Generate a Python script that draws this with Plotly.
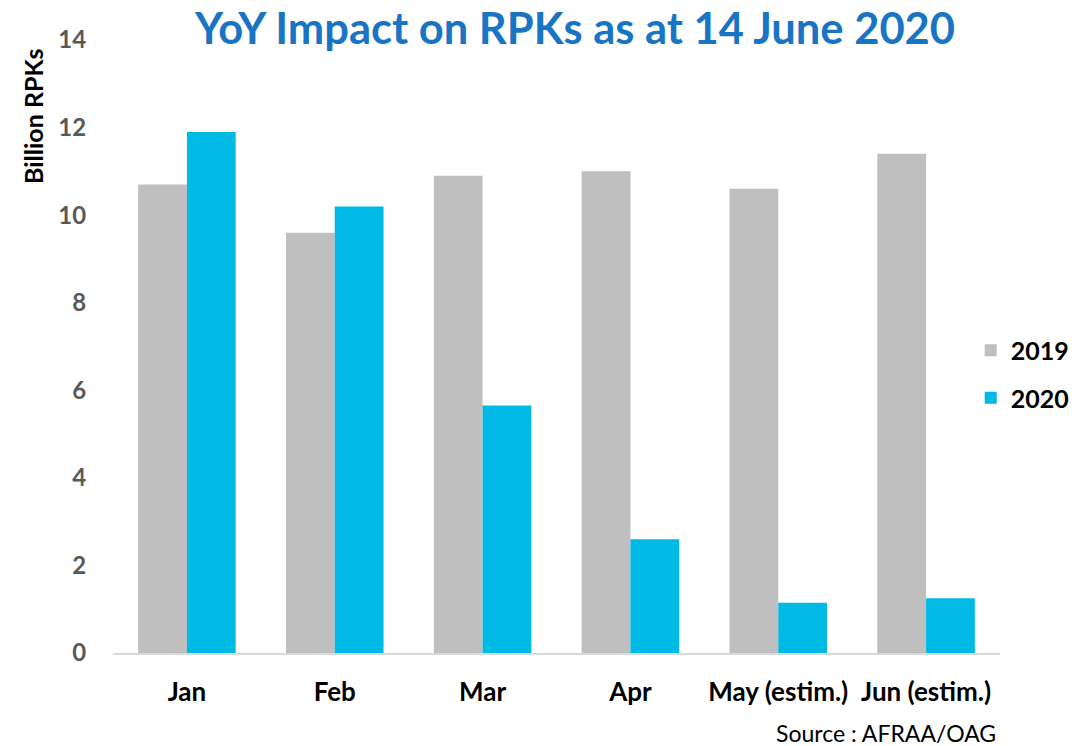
import plotly.graph_objects as go

categories = ["Jan", "Feb", "Mar", "Apr", "May (estim.)", "Jun (estim.)"]
rpk_2019 = [10.7, 9.6, 10.9, 11.0, 10.6, 11.4]
rpk_2020 = [11.9, 10.2, 5.65, 2.6, 1.15, 1.25]
y_ticks = [0, 2, 4, 6, 8, 10, 12, 14]

fig = go.Figure()
fig.add_trace(go.Bar(x=categories, y=rpk_2019, name="<b>2019</b>", marker_color="#bfbfbf",
                     legendgroup="a"))
fig.add_trace(go.Bar(x=categories, y=rpk_2020, name="<b>2020</b>", marker_color="#00b9e4",
                     legendgroup="b"))

# page body has an 8px margin, so the figure is drawn 8px in from the top-left
fig.update_layout(
    width=1081, height=738,
    margin=dict(l=105, r=89, t=32, b=93),
    paper_bgcolor="white", plot_bgcolor="white",
    barmode="group", bargap=0.34, bargroupgap=0,
    font=dict(family="Lato, sans-serif"),
    title=dict(text="<b>YoY Impact on RPKs as at 14 June 2020</b>",
               font=dict(family="Lato", size=43.5, color="#1a74c4"),
               x=0.5245, xanchor="center", y=0.9725, yanchor="middle"),
    legend=dict(x=0.967, xanchor="left", y=0.455, yanchor="middle",
                font=dict(size=25, color="black", family="Lato"),
                itemwidth=30, tracegroupgap=12,
                bgcolor="rgba(0,0,0,0)"),
    xaxis=dict(showline=True, linecolor="#d9d9d9", linewidth=2, automargin=False,
               tickfont=dict(size=26, color="black", family="Lato"),
               tickvals=categories, ticktext=[f"<b>{c}</b>" for c in categories],
               ticks="outside", ticklen=15, tickcolor="rgba(0,0,0,0)"),
    yaxis=dict(range=[0, 14], tickvals=y_ticks, showgrid=False, zeroline=False,
               showline=False, automargin=False,
               ticktext=[f"<b>{t}</b>" for t in y_ticks],
               tickfont=dict(size=24, color="#595959", family="Lato"),
               ticks="outside", ticklen=21, tickcolor="rgba(0,0,0,0)"),
    annotations=[
        dict(text="<b>Billion RPKs</b>", textangle=-90, xref="paper", yref="paper",
             x=-0.0902, y=0.876, xanchor="center", yanchor="middle", showarrow=False,
             font=dict(size=25, color="black", family="Lato")),
        dict(text="Source : AFRAA/OAG", xref="paper", yref="paper",
             x=0.998, y=-0.1305, xanchor="right", yanchor="middle", showarrow=False,
             font=dict(size=23, color="black", family="Lato")),
    ],
)
fig.update_traces(marker_line_width=0)

fig.write_html("out.html")
